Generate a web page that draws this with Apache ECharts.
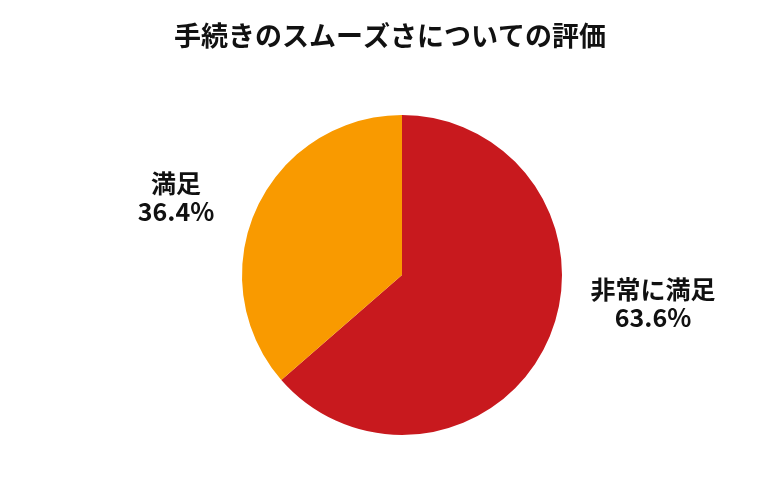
<!DOCTYPE html>
<html><head><meta charset="utf-8">
<script src="https://cdn.jsdelivr.net/npm/echarts@6/dist/echarts.min.js"></script>
<style>html,body{margin:0;padding:0;background:#fff}#c{width:780px;height:500px}</style>
</head><body><div id="c"></div>
<script>
const categories = ['非常に満足', '満足'];
const values = [63.6, 36.4];
const colors = ['#C8191E', '#F99A00'];
const labelPos = [[653, 303], [176, 197]];

const chart = echarts.init(document.getElementById('c'), null, {renderer: 'canvas'});
chart.setOption({
  animation: false,
  title: {
    text: '手続きのスムーズさについての評価',
    left: 'center', top: 17,
    textStyle: {fontFamily: 'Noto Sans CJK JP', fontSize: 27, fontWeight: 'bold', color: '#111'}
  },
  series: [{
    type: 'pie',
    center: [402, 275],
    radius: 160,
    startAngle: 90,
    clockwise: true,
    data: categories.map((c, i) => ({name: c, value: values[i], itemStyle: {color: colors[i]}})),
    label: {
      show: true,
      position: 'outside',
      formatter: p => p.name + '\n' + p.value.toFixed(1) + '%',
      fontFamily: 'Noto Sans CJK JP', fontSize: 25, fontWeight: 'bold', color: '#111',
      lineHeight: 28, align: 'center'
    },
    labelLine: {show: false},
    labelLayout: p => ({x: labelPos[p.dataIndex][0], y: labelPos[p.dataIndex][1], align: 'center', verticalAlign: 'middle'}),
    emphasis: {disabled: true}
  }]
});
</script></body></html>
